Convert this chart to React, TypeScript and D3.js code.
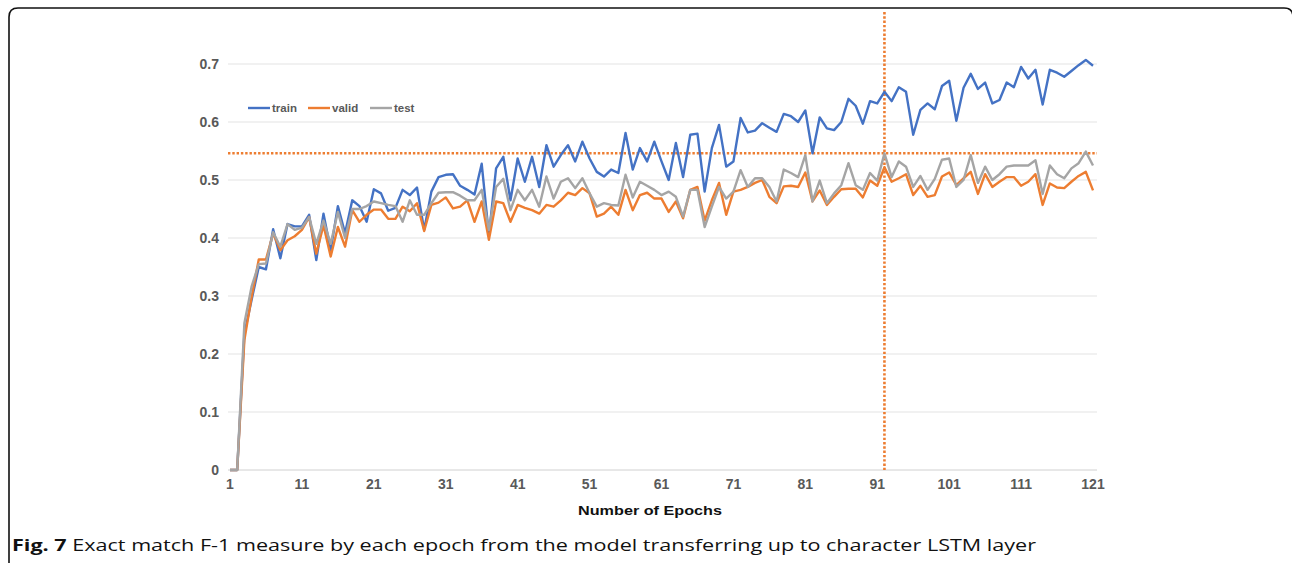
import * as d3 from 'd3';

// F-1 per epoch (epochs 1..121)
const train = [
  0, 0, 0.235, 0.293, 0.35, 0.346, 0.415, 0.365, 0.424, 0.42,
  0.42, 0.44, 0.362, 0.442, 0.379, 0.455, 0.408, 0.465, 0.455, 0.428,
  0.484, 0.477, 0.447, 0.452, 0.483, 0.474, 0.487, 0.414, 0.48, 0.505,
  0.509, 0.51, 0.49, 0.483, 0.475, 0.528, 0.405, 0.52, 0.54, 0.465,
  0.537, 0.497, 0.54, 0.488, 0.56, 0.523, 0.543, 0.56, 0.532, 0.566,
  0.537, 0.514, 0.506, 0.518, 0.512, 0.581, 0.518, 0.555, 0.532, 0.566,
  0.532, 0.5, 0.564, 0.505, 0.578, 0.58, 0.48, 0.555, 0.595, 0.523,
  0.532, 0.607, 0.582, 0.585, 0.598, 0.59, 0.583, 0.614, 0.61, 0.6,
  0.62, 0.546, 0.608, 0.589, 0.586, 0.6, 0.64, 0.628, 0.597, 0.636,
  0.632, 0.652, 0.636, 0.66, 0.652, 0.578, 0.621, 0.632, 0.622, 0.662,
  0.671, 0.602, 0.659, 0.683, 0.657, 0.668, 0.632, 0.638, 0.668, 0.66,
  0.695, 0.675, 0.69, 0.63, 0.69, 0.685, 0.678, 0.688, 0.698, 0.707,
  0.697,
];

const valid = [
  0, 0, 0.224, 0.298, 0.363, 0.363, 0.408, 0.379, 0.396, 0.403,
  0.414, 0.436, 0.373, 0.422, 0.368, 0.419, 0.385, 0.448, 0.428, 0.44,
  0.449, 0.449, 0.433, 0.433, 0.454, 0.446, 0.46, 0.412, 0.457, 0.461,
  0.47, 0.451, 0.454, 0.465, 0.428, 0.463, 0.397, 0.463, 0.46, 0.428,
  0.457, 0.452, 0.448, 0.442, 0.457, 0.454, 0.465, 0.478, 0.474, 0.486,
  0.477, 0.437, 0.442, 0.454, 0.44, 0.483, 0.448, 0.474, 0.478, 0.468,
  0.468, 0.445, 0.463, 0.434, 0.483, 0.488, 0.43, 0.465, 0.495, 0.44,
  0.48, 0.483, 0.488, 0.495, 0.5, 0.471, 0.46, 0.489, 0.49, 0.488,
  0.513, 0.463, 0.482, 0.457, 0.471, 0.484, 0.485, 0.485, 0.47, 0.499,
  0.49, 0.522, 0.497, 0.503, 0.51, 0.474, 0.49, 0.471, 0.474, 0.506,
  0.513, 0.491, 0.503, 0.514, 0.476, 0.51, 0.488, 0.497, 0.505, 0.505,
  0.49, 0.497, 0.51, 0.457, 0.494, 0.487, 0.486, 0.497, 0.507, 0.514,
  0.482,
];

const test = [
  0, 0, 0.253, 0.316, 0.355, 0.356, 0.41, 0.385, 0.424, 0.414,
  0.418, 0.436, 0.39, 0.43, 0.39, 0.445, 0.4, 0.45, 0.45, 0.455,
  0.463, 0.46, 0.457, 0.455, 0.428, 0.465, 0.44, 0.44, 0.46, 0.478,
  0.479, 0.479, 0.473, 0.465, 0.465, 0.483, 0.414, 0.488, 0.502, 0.448,
  0.483, 0.465, 0.483, 0.454, 0.506, 0.468, 0.497, 0.503, 0.486, 0.503,
  0.477, 0.454, 0.46, 0.457, 0.456, 0.509, 0.47, 0.497, 0.49, 0.483,
  0.474, 0.48, 0.471, 0.437, 0.483, 0.483, 0.419, 0.454, 0.488, 0.468,
  0.48, 0.517, 0.488, 0.503, 0.503, 0.488, 0.463, 0.518, 0.512, 0.505,
  0.543, 0.463, 0.499, 0.46, 0.477, 0.491, 0.529, 0.491, 0.483, 0.512,
  0.499, 0.546, 0.505, 0.532, 0.523, 0.488, 0.507, 0.483, 0.502, 0.535,
  0.537, 0.488, 0.5, 0.543, 0.495, 0.523, 0.5, 0.51, 0.523, 0.525,
  0.525, 0.525, 0.534, 0.476, 0.525, 0.51, 0.503, 0.52, 0.529, 0.549,
  0.525,
];

const xTickLabels = ['1', '11', '21', '31', '41', '51', '61', '71', '81', '91', '101', '111', '121'];
const yTicks = [0, 0.1, 0.2, 0.3, 0.4, 0.5, 0.6, 0.7];
const bestEpoch = 92;

const series = [
  { name: 'train', values: train, color: '#4472C4' },
  { name: 'valid', values: valid, color: '#ED7D31' },
  { name: 'test', values: test, color: '#A5A5A5' },
];

const W = 1292;
const H = 563;

export default function App() {
  const x = d3.scaleLinear().domain([1, 121]).range([230, 1093]);
  const y = d3.scaleLinear().domain([0, 0.7]).range([470, 64]);
  const gridX0 = 228;
  const gridX1 = 1097;
  const bestValue = test[bestEpoch - 1];

  const line = d3
    .line<number>()
    .x((_, i) => x(i + 1))
    .y(d => y(d));

  const labelFont = '"Liberation Sans", Arial, sans-serif';

  return (
    <svg
      width={W}
      height={H}
      style={{ position: 'absolute', left: 0, top: 0, background: '#fff' }}
    >
      {/* frame, right edge runs just off the page */}
      <path
        d="M9,600 L9,17 Q9,8 18,8 L1284,8 Q1293,8 1293,17 L1293,600"
        fill="none"
        stroke="#111"
        strokeWidth={1.6}
      />

      {/* gridlines */}
      {yTicks.map(t => (
        <line
          key={t}
          x1={gridX0}
          x2={gridX1}
          y1={y(t)}
          y2={y(t)}
          stroke={t === 0 ? '#d0d0d0' : '#e3e3e3'}
          strokeWidth={1}
        />
      ))}

      {/* y labels */}
      {yTicks.map(t => (
        <text
          key={'l' + t}
          x={219}
          y={y(t) + 5}
          textAnchor="end"
          fontFamily={labelFont}
          fontWeight="bold"
          fontSize={14}
          fill="#595959"
        >
          {t === 0 ? '0' : t.toFixed(1)}
        </text>
      ))}

      {/* x labels */}
      {xTickLabels.map(l => (
        <text
          key={'x' + l}
          x={x(+l)}
          y={489}
          textAnchor="middle"
          fontFamily={labelFont}
          fontWeight="bold"
          fontSize={14}
          fill="#595959"
        >
          {l}
        </text>
      ))}

      {/* best-epoch reference lines */}
      <line
        x1={gridX0}
        x2={gridX1}
        y1={y(bestValue)}
        y2={y(bestValue)}
        stroke="#ED7D31"
        strokeWidth={2.6}
        strokeDasharray="2.4 1.9"
      />
      <line
        x1={x(bestEpoch)}
        x2={x(bestEpoch)}
        y1={12}
        y2={y(0)}
        stroke="#ED7D31"
        strokeWidth={2.6}
        strokeDasharray="2.4 1.9"
      />

      {/* series */}
      {series.map(s => (
        <path
          key={s.name}
          d={line(s.values) ?? ''}
          fill="none"
          stroke={s.color}
          strokeWidth={2.4}
          strokeLinejoin="round"
        />
      ))}

      {/* legend */}
      {series.map((s, i) => {
        const lx = [248, 308, 370][i];
        return (
          <g key={'lg' + s.name}>
            <line x1={lx} x2={lx + 22} y1={108} y2={108} stroke={s.color} strokeWidth={2.4} />
            <text
              x={lx + 24}
              y={112}
              fontFamily={labelFont}
              fontWeight="bold"
              fontSize={11.5}
              fill="#595959"
            >
              {s.name}
            </text>
          </g>
        );
      })}

      {/* axis title */}
      <text
        x={650}
        y={515}
        textAnchor="middle"
        fontFamily={labelFont}
        fontWeight="bold"
        fontSize={13}
        fill="#111"
        textLength={144}
        lengthAdjust="spacingAndGlyphs"
      >
        Number of Epochs
      </text>

      {/* caption */}
      <text
        x={12}
        y={551}
        fontFamily='"Open Sans", "Noto Sans", sans-serif'
        fontSize={16}
        fill="#111"
        textLength={1024}
        lengthAdjust="spacingAndGlyphs"
      >
        <tspan fontWeight="bold">Fig. 7</tspan> Exact match F-1 measure by each epoch from the model transferring up to character LSTM layer
      </text>
    </svg>
  );
}
